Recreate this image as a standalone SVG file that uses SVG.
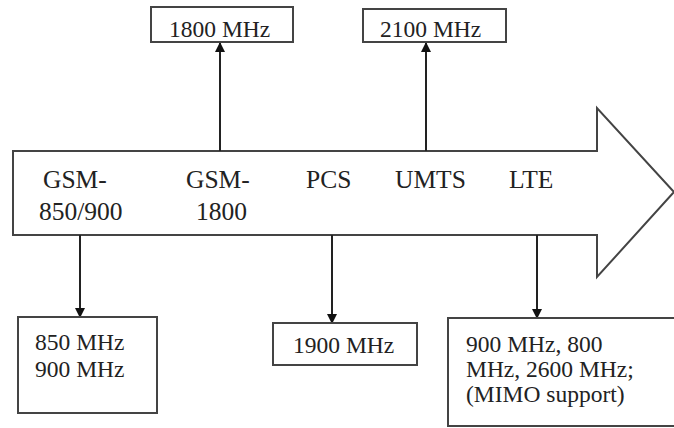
<svg xmlns="http://www.w3.org/2000/svg" width="674" height="428" viewBox="0 0 674 428">
<defs>
<style>
.box{fill:#fff;stroke:#444;stroke-width:2}
text{font-family:'Liberation Serif',serif;fill:#222}
.t{font-size:23.5px}
.lb{font-size:25.5px}
.ln{stroke:#222;stroke-width:2;fill:none}
</style>
<marker id="ah" viewBox="0 0 10 12" refX="9" refY="6" markerWidth="10" markerHeight="12" markerUnits="userSpaceOnUse" orient="auto">
<path d="M0,1 L10,6 L0,11 Z" fill="#111"/>
</marker>
</defs>
<rect width="674" height="428" fill="#fff"/>
<g id="timeline">
<path class="box" d="M13,151 L597,151 L597,108 L674,192 L597,277 L597,235 L13,235 Z"/>
<text class="lb" x="43" y="188">GSM-</text>
<text class="lb" x="39" y="220">850/900</text>
<text class="lb" x="186" y="188">GSM-</text>
<text class="lb" x="196" y="220">1800</text>
<text class="lb" x="306" y="188">PCS</text>
<text class="lb" x="395" y="188">UMTS</text>
<text class="lb" x="509" y="188">LTE</text>
</g>
<g id="connectors">
<line class="ln" x1="220" y1="151" x2="220" y2="43" marker-end="url(#ah)"/>
<line class="ln" x1="426" y1="151" x2="426" y2="43" marker-end="url(#ah)"/>
<line class="ln" x1="80" y1="235" x2="80" y2="317" marker-end="url(#ah)"/>
<line class="ln" x1="332" y1="235" x2="332" y2="323" marker-end="url(#ah)"/>
<line class="ln" x1="537" y1="235" x2="537" y2="318" marker-end="url(#ah)"/>
</g>
<g id="n1800">
<rect class="box" x="151" y="7" width="142" height="35"/>
<text class="t" x="169" y="37">1800 MHz</text>
</g>
<g id="n2100">
<rect class="box" x="363" y="9" width="143" height="33"/>
<text class="t" x="380" y="37">2100 MHz</text>
</g>
<g id="n850">
<rect class="box" x="18" y="317" width="139" height="96"/>
<text class="t" x="35" y="350">850 MHz</text>
<text class="t" x="35" y="377">900 MHz</text>
</g>
<g id="n1900">
<rect class="box" x="273" y="323" width="144" height="42"/>
<text class="t" x="293" y="353">1900 MHz</text>
</g>
<g id="nlte">
<rect class="box" x="448" y="318" width="240" height="108"/>
<text class="t" x="466" y="352">900 MHz, 800</text>
<text class="t" x="466" y="377">MHz, 2600 MHz;</text>
<text class="t" x="466" y="402">(MIMO support)</text>
</g>
</svg>
